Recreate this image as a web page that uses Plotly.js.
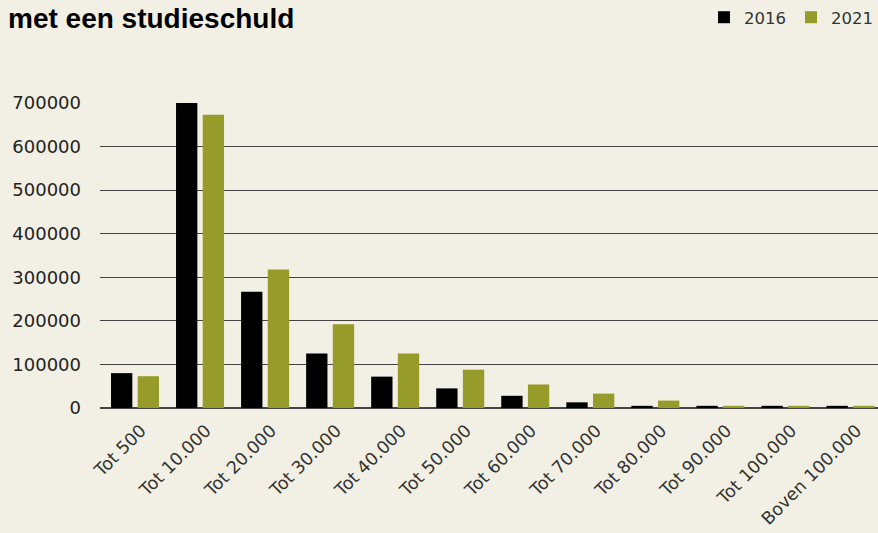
<!DOCTYPE html>
<html>
<head>
<meta charset="utf-8">
<script src="https://cdn.plot.ly/plotly-3.0.1.min.js"></script>
<style>html,body{margin:0;padding:0;background:#f2f0e4;}#chart{width:878px;height:533px;}</style>
</head>
<body>
<div id="chart"></div>
<script>
const categories = ["Tot 500","Tot 10.000","Tot 20.000","Tot 30.000","Tot 40.000","Tot 50.000","Tot 60.000","Tot 70.000","Tot 80.000","Tot 90.000","Tot 100.000","Boven 100.000"];
const values2016 = [80000,700000,267000,125000,72000,45000,28000,13000,5000,5000,5000,5000];
const values2021 = [73000,673000,318000,192000,125000,88000,54000,33000,17000,5000,5000,5000];
const yTicks = [0,100000,200000,300000,400000,500000,600000,700000];

const traces = [
  {type:'bar', name:'2016', x:categories, y:values2016, marker:{color:'#000000'}},
  {type:'bar', name:'2021', x:categories, y:values2021, marker:{color:'#979b29'}}
];
const layout = {
  width:878, height:533,
  paper_bgcolor:'#f2f0e4', plot_bgcolor:'#f2f0e4',
  margin:{l:100, r:0, t:103, b:125},
  font:{family:'"DejaVu Sans", sans-serif', color:'#222'},
  title:{text:'<b>met een studieschuld</b>', x:8/878, xanchor:'left', xref:'container', y:0.985, yanchor:'top', yref:'container', font:{family:'"Liberation Sans", Arial, sans-serif', size:28, color:'#000'}},
  barmode:'group', bargap:0.18, bargroupgap:0.2,
  showlegend:true,
  legend:{orientation:'h', x:1, xanchor:'right', xref:'container', y:1, yanchor:'top', yref:'container', font:{size:16.5, color:'#333'}, bgcolor:'rgba(0,0,0,0)'},
  xaxis:{range:[-0.538, 11.423], tickangle:-45, tickfont:{size:17.5, color:'#333'}, showgrid:false, showline:false, ticks:'', ticklabelshift:6, ticklabelstandoff:8},
  yaxis:{range:[0,700000], tickvals:yTicks, ticktext:yTicks.map(String), tickfont:{size:18, color:'#222'}, showgrid:true, gridcolor:'#444', gridwidth:1, zeroline:true, zerolinecolor:'#444', zerolinewidth:1.5, ticks:'', ticklabelstandoff:18, automargin:false}
};
Plotly.newPlot('chart', traces, layout, {displayModeBar:false, staticPlot:true});
</script>
</body>
</html>
